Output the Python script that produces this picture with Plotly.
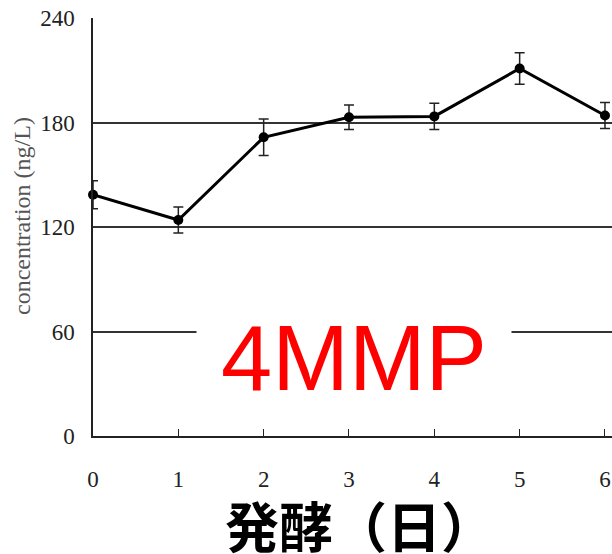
import plotly.graph_objects as go

# Fermentation day vs. 4MMP concentration (mean ± error)
days = [0, 1, 2, 3, 4, 5, 6]
concentration = [138.5, 124.0, 171.5, 183.0, 183.5, 211.0, 184.0]
error = [8.0, 7.5, 10.5, 7.0, 7.5, 9.0, 7.5]

y_ticks = [0, 60, 120, 180, 240]
x_ticks = [0, 1, 2, 3, 4, 5, 6]

W, H = 612, 554
L, R, T, B = 93, 0, 18, 118
pw, ph = W - L - R, H - T - B

serif = "Liberation Serif"


def px_x(v):
    return (v - L) / pw


def px_y(v):
    return (H - B - v) / ph


fig = go.Figure()
fig.add_trace(go.Scatter(
    x=days, y=concentration,
    mode="lines+markers",
    line=dict(color="black", width=3),
    marker=dict(color="black", size=10, symbol="circle"),
    error_y=dict(type="data", array=error, visible=True,
                 color="#222222", thickness=1.5, width=5),
    showlegend=False,
    cliponaxis=False,
))

fig.update_layout(
    width=W, height=H,
    margin=dict(l=L, r=R, t=T, b=B),
    paper_bgcolor="white", plot_bgcolor="white",
    xaxis=dict(
        range=[0, pw / 85.33], tickvals=x_ticks, ticktext=[str(v) for v in x_ticks],
        showgrid=False, zeroline=False,
        showline=True, linecolor="#222222", linewidth=1.5,
        ticks="inside", ticklen=7, tickwidth=1.2, tickcolor="#222222",
        ticklabelstandoff=22,
        tickfont=dict(family=serif, size=23, color="#222222"),
    ),
    yaxis=dict(
        range=[0, 240], tickvals=y_ticks,
        showgrid=True, gridcolor="#333333", gridwidth=1.6,
        zeroline=False,
        showline=True, linecolor="#222222", linewidth=1.5,
        ticks="", ticklabelstandoff=12,
        tickfont=dict(family=serif, size=23, color="#222222"),
    ),
    # white band behind the axis title, masking the lower part of the tick labels
    shapes=[dict(type="rect", xref="paper", yref="paper", layer="above",
                 x0=px_x(224), x1=px_x(492), y0=px_y(489), y1=px_y(560),
                 fillcolor="white", line=dict(width=0))],
    annotations=[
        dict(text="concentration (ng/L)", xref="paper", yref="paper",
             x=px_x(22), y=px_y(216), textangle=-90,
             showarrow=False, xanchor="center", yanchor="middle",
             font=dict(family=serif, size=24, color="#555555")),
        dict(text="4MMP", xref="paper", yref="paper",
             x=px_x(354), y=px_y(358),
             showarrow=False, xanchor="center", yanchor="middle",
             width=312, height=96, bgcolor="white",
             font=dict(family="Liberation Sans", size=92, color="#ff0000")),
        dict(text="<b>発酵（日）</b>", xref="paper", yref="paper",
             x=px_x(360), y=px_y(524),
             showarrow=False, xanchor="center", yanchor="middle",
             font=dict(family="Noto Sans CJK JP", size=54, color="black")),
    ],
)

fig.write_html("out.html")
